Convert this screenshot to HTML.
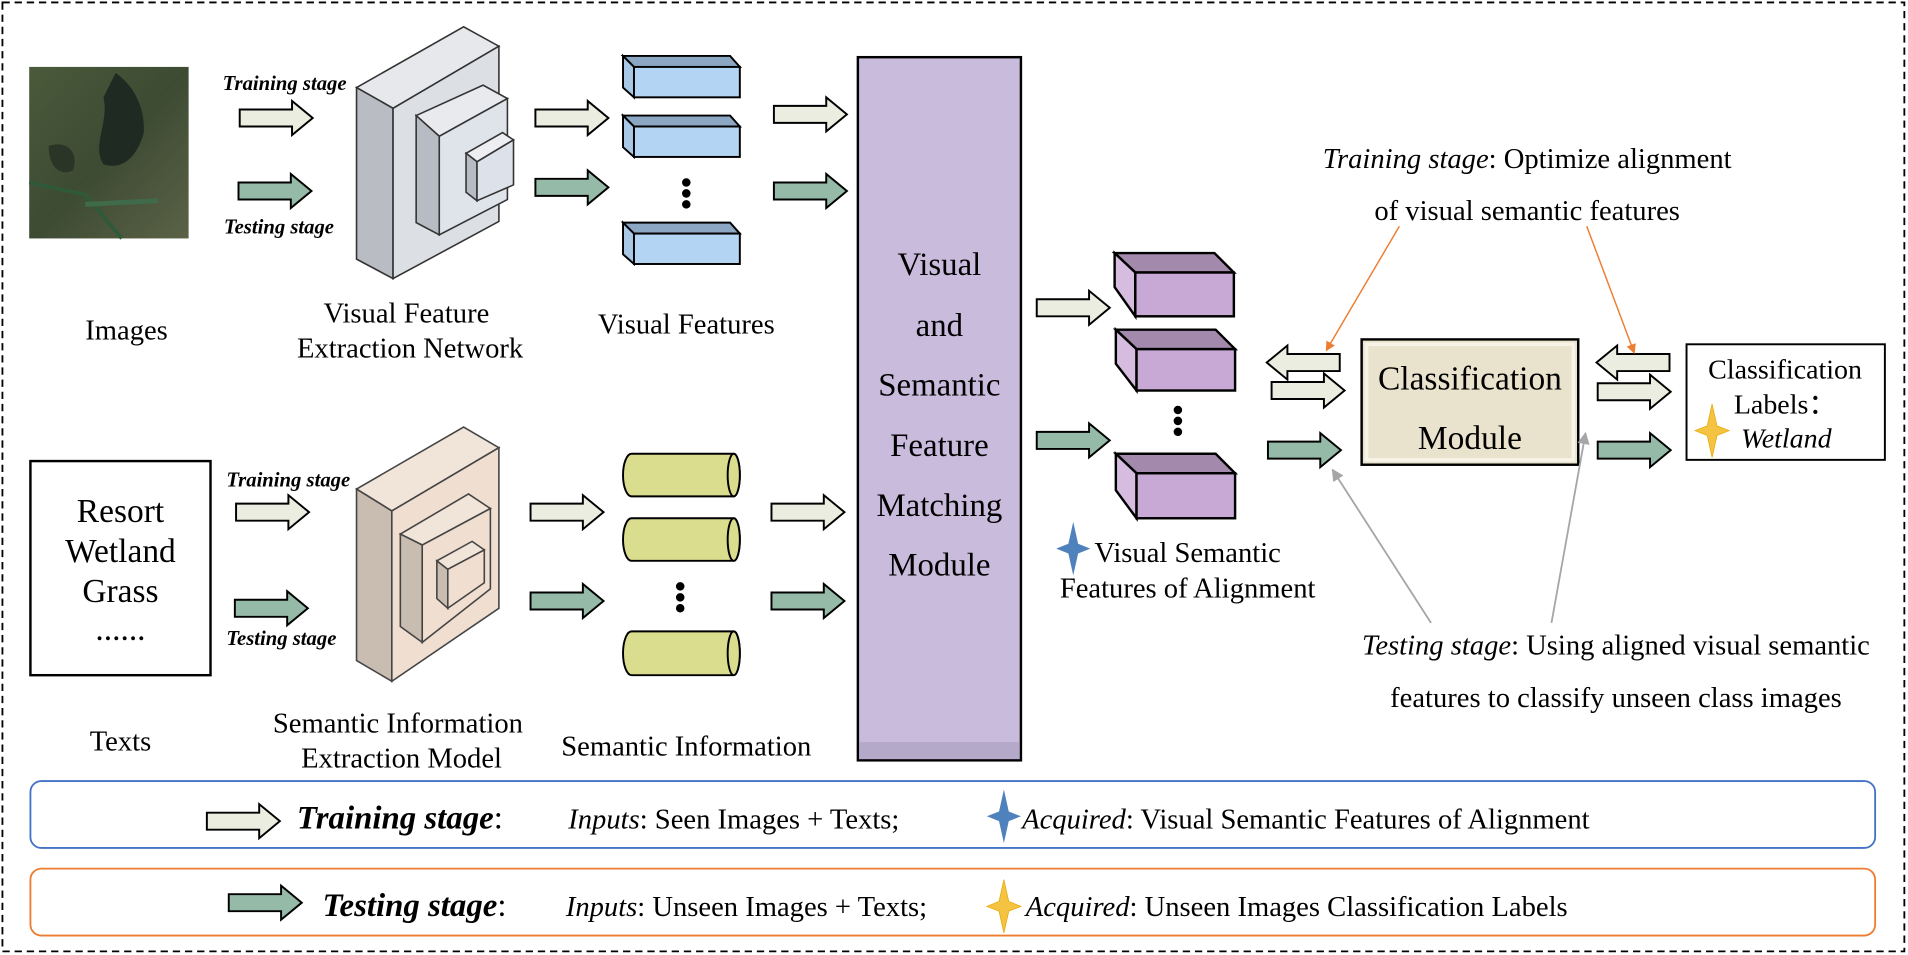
<!DOCTYPE html>
<html><head><meta charset="utf-8"><style>html,body{margin:0;padding:0;background:#fff}svg{display:block}</style></head>
<body>
<svg width="1908" height="955" viewBox="0 0 1568 785" preserveAspectRatio="none" xmlns="http://www.w3.org/2000/svg" font-family="Liberation Serif, serif">
<defs>
<path id="ar" d="M0,-7 H43 V-14 L60,0 L43,14 V7 H0 Z" stroke="#000" stroke-width="1.6"/>
<path id="st" d="M0,-22 L4,-4 L14,0 L4,4 L0,22 L-4,4 L-14,0 L-4,-4 Z"/>
<marker id="mo" markerWidth="8" markerHeight="8" refX="7" refY="4" orient="auto" markerUnits="userSpaceOnUse"><path d="M0,0 L8,4 L0,8 Z" fill="#ed7d31"/></marker>
<marker id="mg" markerWidth="10" markerHeight="10" refX="9" refY="5" orient="auto" markerUnits="userSpaceOnUse"><path d="M0,0 L10,5 L0,10 Z" fill="#a6a6a6"/></marker>
<linearGradient id="sat" x1="0" y1="0" x2="1" y2="1"><stop offset="0" stop-color="#4a5a3a"/><stop offset="0.5" stop-color="#3d4b33"/><stop offset="1" stop-color="#5b6246"/></linearGradient>
</defs>
<rect x="2" y="2" width="1563" height="780" fill="none" stroke="#000" stroke-width="1.5" stroke-dasharray="6,4"/>

<!-- satellite image -->
<rect x="24" y="55" width="131" height="141" fill="url(#sat)"/>
<path d="M95,60 C110,70 120,90 118,110 C112,130 100,140 85,135 C75,120 90,100 85,80 Z" fill="#1f2a22"/>
<path d="M40,120 C55,115 65,125 60,140 C50,145 40,138 40,120Z" fill="#2b3527"/>
<path d="M24,150 L70,160 L100,196" stroke="#2e5a3a" stroke-width="3" fill="none"/>
<path d="M70,168 L130,165" stroke="#3f6b4a" stroke-width="4" fill="none"/>

<!-- top arrows -->
<use href="#ar" x="197" y="97" fill="#eaede0"/>
<use href="#ar" x="196" y="157" fill="#96baa8"/>
<text x="183" y="74" font-size="17" font-weight="bold" font-style="italic">Training stage</text>
<text x="184" y="192" font-size="17" font-weight="bold" font-style="italic">Testing stage</text>

<!-- visual network -->
<g stroke="#333" stroke-width="1.3">
<polygon points="293,72 381,22 410,38 323,89" fill="#e6e8ec"/>
<polygon points="293,72 323,89 323,229 293,213" fill="#b9bcc3"/>
<polygon points="323,89 410,38 410,182 323,229" fill="#dcdfe4"/>
<polygon points="342,95 397,70 417,81 361,112" fill="#e8eaee"/>
<polygon points="342,95 361,112 361,193 342,183" fill="#b7bbc3"/>
<polygon points="361,112 417,81 417,164 361,193" fill="#dfe3ea"/>
<polygon points="383,126 413,109 422,115 392,133" fill="#eceef1"/>
<polygon points="383,126 392,133 392,165 383,158" fill="#b7bbc3"/>
<polygon points="392,133 422,115 422,152 392,165" fill="#dde2ea"/>
</g>
<use href="#ar" x="440" y="97" fill="#eaede0"/>
<use href="#ar" x="440" y="154" fill="#96baa8"/>

<!-- blue bars -->
<g stroke="#000" stroke-width="1.6">
<g><polygon points="512,46 600,46 608,55 521,55" fill="#8ba7c3"/><polygon points="512,46 521,55 521,80 512,72" fill="#a9c8e6"/><rect x="521" y="55" width="87" height="25" fill="#b3d4f2"/></g>
<g transform="translate(0,49)"><polygon points="512,46 600,46 608,55 521,55" fill="#8ba7c3"/><polygon points="512,46 521,55 521,80 512,72" fill="#a9c8e6"/><rect x="521" y="55" width="87" height="25" fill="#b3d4f2"/></g>
<g transform="translate(0,137)"><polygon points="512,46 600,46 608,55 521,55" fill="#8ba7c3"/><polygon points="512,46 521,55 521,80 512,72" fill="#a9c8e6"/><rect x="521" y="55" width="87" height="25" fill="#b3d4f2"/></g>
</g>
<circle cx="564" cy="150" r="3.5"/><circle cx="564" cy="159" r="3.5"/><circle cx="564" cy="168" r="3.5"/>
<use href="#ar" x="636" y="94" fill="#eaede0"/>
<use href="#ar" x="636" y="157" fill="#96baa8"/>

<!-- matching module -->
<rect x="705" y="47" width="134" height="578" fill="#c9bbdc" stroke="#000" stroke-width="2"/>
<rect x="706" y="610" width="132" height="14" fill="#a99cbc" opacity="0.6"/>
<g font-size="27" text-anchor="middle">
<text x="772" y="226">Visual</text><text x="772" y="276">and</text><text x="772" y="325">Semantic</text>
<text x="772" y="375">Feature</text><text x="772" y="424">Matching</text><text x="772" y="473">Module</text>
</g>

<!-- labels -->
<g font-size="23.5" text-anchor="middle">
<text x="104" y="279">Images</text>
<text x="334" y="265">Visual Feature</text><text x="337" y="294">Extraction Network</text>
<text x="564" y="274">Visual Features</text>
<text x="99" y="617">Texts</text>
<text x="327" y="602">Semantic Information</text><text x="330" y="631">Extraction Model</text>
<text x="564" y="621">Semantic Information</text>
</g>

<!-- text box -->
<rect x="25" y="379" width="148" height="176" fill="#fff" stroke="#000" stroke-width="2"/>
<g font-size="27.5" text-anchor="middle">
<text x="99" y="429">Resort</text><text x="99" y="462">Wetland</text><text x="99" y="495">Grass</text><text x="99" y="526">......</text>
</g>
<use href="#ar" x="194" y="421" fill="#eaede0"/>
<use href="#ar" x="193" y="500" fill="#96baa8"/>
<text x="186" y="400" font-size="17" font-weight="bold" font-style="italic">Training stage</text>
<text x="186" y="530" font-size="17" font-weight="bold" font-style="italic">Testing stage</text>

<!-- semantic model -->
<g stroke="#444" stroke-width="1.3">
<polygon points="293,402 381,351 410,368 322,420" fill="#f1e4d8"/>
<polygon points="293,402 322,420 322,560 293,543" fill="#c9bcb0"/>
<polygon points="322,420 410,368 410,500 322,560" fill="#f0dfd0"/>
<polygon points="329,439 385,406 403,418 347,448" fill="#f1e4d8"/>
<polygon points="329,439 347,448 347,528 329,515" fill="#c9bcb0"/>
<polygon points="347,448 403,418 403,484 347,528" fill="#f0dfd0"/>
<polygon points="359,461 388,445 398,452 368,468" fill="#f1e4d8"/>
<polygon points="359,461 368,468 368,500 359,492" fill="#c9bcb0"/>
<polygon points="368,468 398,452 398,479 368,500" fill="#f0dfd0"/>
</g>
<use href="#ar" x="436" y="421" fill="#eaede0"/>
<use href="#ar" x="436" y="494" fill="#96baa8"/>

<!-- cylinders -->
<g stroke="#000" stroke-width="1.6" fill="#dadc8e">
<path d="M519,373 H603 A5,17.5 0 0 1 603,408 H519 A7,17.5 0 0 1 519,373 Z"/><ellipse cx="603" cy="390.5" rx="5" ry="17.5"/>
<path d="M519,426 H603 A5,17.5 0 0 1 603,461 H519 A7,17.5 0 0 1 519,426 Z"/><ellipse cx="603" cy="443.5" rx="5" ry="17.5"/>
<path d="M519,519 H603 A5,18 0 0 1 603,555 H519 A7,18 0 0 1 519,519 Z"/><ellipse cx="603" cy="537" rx="5" ry="18"/>
</g>
<circle cx="559" cy="482" r="3.5"/><circle cx="559" cy="491" r="3.5"/><circle cx="559" cy="500" r="3.5"/>
<use href="#ar" x="634" y="421" fill="#eaede0"/>
<use href="#ar" x="634" y="494" fill="#96baa8"/>

<!-- aligned purple boxes -->
<g stroke="#000" stroke-width="2">
<g><polygon points="916,208 998,208 1014,224 933,224" fill="#a38aad"/><polygon points="916,208 933,224 933,260 916,236" fill="#d6bde0"/><rect x="933" y="224" width="81" height="36" fill="#c8a9d5"/></g>
<g transform="translate(1,63)"><polygon points="916,208 998,208 1014,224 933,224" fill="#a38aad"/><polygon points="916,208 933,224 933,258 916,236" fill="#d6bde0"/><rect x="933" y="224" width="81" height="34" fill="#c8a9d5"/></g>
<g transform="translate(1,165)"><polygon points="916,208 998,208 1014,224 933,224" fill="#a38aad"/><polygon points="916,208 933,224 933,261 916,238" fill="#d6bde0"/><rect x="933" y="224" width="81" height="37" fill="#c8a9d5"/></g>
</g>
<circle cx="968" cy="337" r="3.5"/><circle cx="968" cy="346" r="3.5"/><circle cx="968" cy="355" r="3.5"/>
<use href="#ar" x="852" y="253" fill="#eaede0"/>
<use href="#ar" x="852" y="362" fill="#96baa8"/>
<use href="#st" x="882" y="451" fill="#4f81bd"/>
<g font-size="23.5" text-anchor="middle"><text x="976" y="462">Visual Semantic</text><text x="976" y="491">Features of Alignment</text></g>

<!-- classification -->
<use href="#ar" transform="translate(1101,298) scale(-1,1)" fill="#eaede0"/>
<use href="#ar" x="1045" y="321" fill="#eaede0"/>
<use href="#ar" x="1042" y="370" fill="#96baa8"/>
<rect x="1119" y="279" width="178" height="103" fill="#e9e2cc" stroke="#000" stroke-width="2"/>
<rect x="1123" y="283" width="170" height="95" fill="none" stroke="#f7f3e6" stroke-width="3"/>
<g font-size="27.5" text-anchor="middle"><text x="1208" y="320">Classification</text><text x="1208" y="369">Module</text></g>
<use href="#ar" transform="translate(1372,298) scale(-1,1)" fill="#eaede0"/>
<use href="#ar" x="1313" y="322" fill="#eaede0"/>
<use href="#ar" x="1313" y="370" fill="#96baa8"/>
<rect x="1386" y="283" width="163" height="95" fill="#fff" stroke="#000" stroke-width="1.6"/>
<g font-size="23" text-anchor="middle"><text x="1467" y="311">Classification</text><text x="1467" y="340">Labels：</text><text x="1468" y="368" font-style="italic">Wetland</text></g>
<use href="#st" x="1407" y="354" fill="#f5c342" stroke="#e8a800" stroke-width="0.6"/>

<!-- annotation texts -->
<g font-size="23.5" text-anchor="middle">
<text x="1255" y="138"><tspan font-style="italic">Training stage</tspan>: Optimize alignment</text>
<text x="1255" y="181">of visual semantic features</text>
<text x="1328" y="538"><tspan font-style="italic">Testing stage</tspan>: Using aligned visual semantic</text>
<text x="1328" y="581">features to classify unseen class images</text>
</g>
<line x1="1150" y1="186" x2="1090" y2="288" stroke="#ed7d31" stroke-width="1.2" marker-end="url(#mo)"/>
<line x1="1304" y1="186" x2="1343" y2="290" stroke="#ed7d31" stroke-width="1.2" marker-end="url(#mo)"/>
<line x1="1176" y1="512" x2="1095" y2="386" stroke="#a6a6a6" stroke-width="1.5" marker-end="url(#mg)"/>
<line x1="1275" y1="512" x2="1303" y2="356" stroke="#a6a6a6" stroke-width="1.5" marker-end="url(#mg)"/>

<!-- legend -->
<rect x="25" y="642" width="1516" height="55" rx="9" fill="#fff" stroke="#4472c4" stroke-width="1.5"/>
<rect x="25" y="714" width="1516" height="55" rx="9" fill="#fff" stroke="#ed7d31" stroke-width="1.5"/>
<use href="#ar" x="170" y="675" fill="#eaede0"/>
<use href="#ar" x="188" y="742" fill="#96baa8"/>
<text x="244" y="681" font-size="27" font-weight="bold" font-style="italic">Training stage<tspan font-weight="normal" font-style="normal">:</tspan></text>
<text x="265" y="753" font-size="27" font-weight="bold" font-style="italic">Testing stage<tspan font-weight="normal" font-style="normal">:</tspan></text>
<g font-size="23.5">
<text x="467" y="681"><tspan font-style="italic">Inputs</tspan>: Seen Images + Texts;</text>
<text x="465" y="753"><tspan font-style="italic">Inputs</tspan>: Unseen Images + Texts;</text>
<text x="840" y="681"><tspan font-style="italic">Acquired</tspan>:  Visual Semantic Features of Alignment</text>
<text x="843" y="753"><tspan font-style="italic">Acquired</tspan>:  Unseen Images Classification Labels</text>
</g>
<use href="#st" x="825" y="671" fill="#4f81bd"/>
<use href="#st" x="825" y="745" fill="#f5c342" stroke="#e8a800" stroke-width="0.6"/>
</svg>
</body></html>
